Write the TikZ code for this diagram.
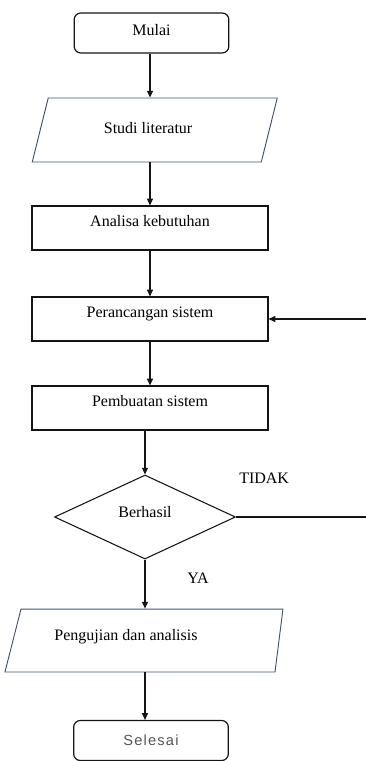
\documentclass[tikz,border=0pt]{standalone}
\usepackage{fontspec}
\setmainfont{Liberation Serif}
\newfontfamily\selesaifont[LetterSpace=8]{Liberation Sans}
\usetikzlibrary{shapes.geometric,arrows.meta}
\definecolor{flowLine}{RGB}{20,20,20}
\definecolor{flowSlate}{RGB}{68,84,106}
\definecolor{flowGray}{RGB}{85,85,85}

\begin{document}
\begin{tikzpicture}[x=0.75pt, y=-0.75pt,
  txt/.style={font=\fontsize{12pt}{14pt}\selectfont, inner sep=0pt},
  terminal/.style={txt, draw=flowLine, line width=0.9pt, rounded corners=5pt, minimum width=116pt, minimum height=30pt},
  io/.style={txt, draw=flowSlate, line width=0.7pt, trapezium, trapezium stretches body=true},
  proc/.style={txt, draw=flowLine, line width=0.9pt, minimum width=177pt, minimum height=33pt, text height=8pt, text depth=11pt},
  cond/.style={txt, draw=flowLine, line width=0.8pt, diamond, minimum width=135.75pt, minimum height=63pt, text height=8pt, text depth=8pt},
  arr/.style={-{Triangle[length=5pt,width=4.5pt]}, line width=0.8pt, flowLine}]
\useasboundingbox (0,0) rectangle (366,761);
%
\node[terminal, text height=8pt, text depth=5pt] (mulai) at (151.5,33) {Mulai};
\node[io, trapezium left angle=76, trapezium right angle=104, minimum width=183.75pt, text height=8pt, text depth=3.5pt, inner ysep=18.25pt] (studi) at (154.75,130) {Studi literatur\hspace*{10pt}};
\node[proc] (analisa) at (150,228) {Analisa kebutuhan};
\node[proc] (rancang) at (150,319) {Perancangan sistem};
\node[proc] (buat) at (150,408) {Pembuatan sistem};
\node[cond] (hasil) at (145,517) {Berhasil};
\node[io, trapezium left angle=75.7, trapezium right angle=97.2, minimum width=208.5pt, text height=8pt, text depth=8pt, inner ysep=15.6pt] (uji) at (148,640.5) {Pengujian dan analisis\hspace*{33pt}};
\node[terminal, font=\selesaifont\fontsize{11pt}{13pt}\selectfont, text=flowGray] (selesai) at (151,740.5) {Selesai};
%
\node[txt, anchor=base west] (tidak) at (239,483) {TIDAK};
\node[txt, anchor=base west] (ya) at (187,583) {YA};
\coordinate (kanan1) at (366,319);
\coordinate (kanan2) at (366,517);
%
\draw[arr] (analisa.north |- mulai.south) -- (analisa.north |- studi.north);
\draw[arr] (analisa.north |- studi.south) -- (analisa.north);
\draw[arr] (analisa.south) -- (rancang.north);
\draw[arr] (rancang.south) -- (buat.north);
\draw[arr] (hasil.north |- buat.south) -- (hasil.north);
\draw[arr] (hasil.south) -- (hasil.south |- uji.north);
\draw[arr] (hasil.south |- uji.south) -- (hasil.south |- selesai.north);
\draw[line width=0.8pt, flowLine] (hasil.east) -- (kanan2);
\draw[arr] (kanan1) -- (rancang.east);
\end{tikzpicture}
\end{document}
